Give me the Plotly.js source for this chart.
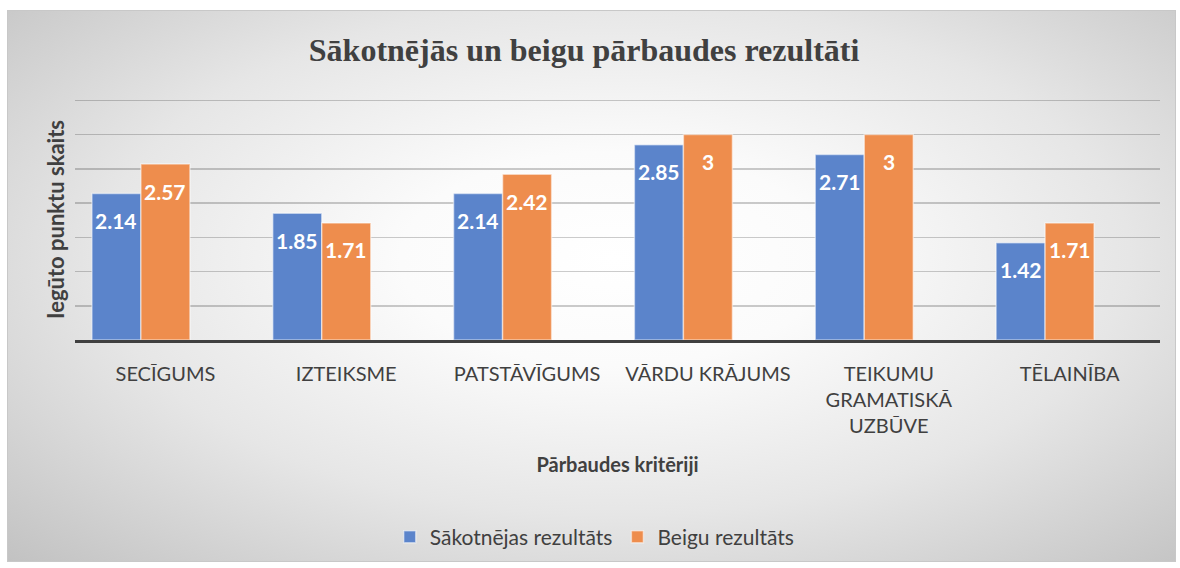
<!DOCTYPE html>
<html>
<head>
<meta charset="utf-8">
<script src="https://cdn.plot.ly/plotly-3.0.1.min.js"></script>
<style>
  html, body { margin: 0; padding: 0; background: #ffffff; width: 1180px; height: 568px; overflow: hidden; }
  #frame {
    position: absolute; left: 7px; top: 10px; width: 1169px; height: 552px;
    border: 1px solid #c8c8c8; box-sizing: border-box;
    background: radial-gradient(ellipse farthest-corner at 52% 45%, #ffffff 0%, #fbfbfb 25%, #e6e6e6 60%, #c2c2c2 100%);
  }
  #chart { position: absolute; left: 0; top: 0; width: 1180px; height: 568px; }
</style>
</head>
<body>
<div id="frame"></div>
<div id="chart"></div>
<script>
// ---- data ----
const categories = ['SECĪGUMS', 'IZTEIKSME', 'PATSTĀVĪGUMS', 'VĀRDU KRĀJUMS', 'TEIKUMU GRAMATISKĀ UZBŪVE', 'TĒLAINĪBA'];
const tickLabels = ['SECĪGUMS', 'IZTEIKSME', 'PATSTĀVĪGUMS', 'VĀRDU KRĀJUMS', 'TEIKUMU<br>GRAMATISKĀ<br>UZBŪVE', 'TĒLAINĪBA'];
const seriesNames = ['Sākotnējas rezultāts', 'Beigu rezultāts'];
const initialValues = [2.14, 1.85, 2.14, 2.85, 2.71, 1.42];
const finalValues = [2.57, 1.71, 2.42, 3, 3, 1.71];
const emptyValues = [0, 0, 0, 0, 0, 0];   // hidden third (empty) series that reserves a slot in each group

const chartTitle = 'Sākotnējās un beigu pārbaudes rezultāti';
const yTitle = 'Iegūto punktu skaits';
const xTitle = 'Pārbaudes kritēriji';

// ---- styles ----
const textColor = '#404040';
const blue = 'rgb(91,132,203)';
const orange = 'rgb(238,141,77)';

const traces = [
  {
    type: 'bar', name: seriesNames[0], x: categories, y: initialValues,
    marker: { color: blue, line: { color: 'rgba(255,255,255,0.5)', width: 1.5 } },
    hoverinfo: 'skip'
  },
  {
    type: 'bar', name: seriesNames[1], x: categories, y: finalValues,
    marker: { color: orange, line: { color: 'rgba(255,255,255,0.5)', width: 1.5 } },
    hoverinfo: 'skip'
  },
  {
    type: 'bar', name: '', x: categories, y: emptyValues, showlegend: false,
    marker: { color: 'rgba(0,0,0,0)', line: { width: 0 } }, hoverinfo: 'skip'
  }
];

// data labels, placed through the axes (category + value)
const annotations = [];
const labelFont = { family: 'Lato, "Open Sans", sans-serif', size: 21, color: '#ffffff' };
const shifts = [-49, 0];
[initialValues, finalValues].forEach((vals, si) => {
  vals.forEach((v, i) => {
    annotations.push({
      xref: 'x', yref: 'y', x: categories[i], y: v,
      text: '<b>' + String(v) + '</b>', showarrow: false,
      xanchor: 'center', yanchor: 'middle', xshift: shifts[si], yshift: -27,
      font: labelFont
    });
  });
});

const layout = {
  width: 1180, height: 568,
  margin: { l: 75, r: 20, t: 99, b: 227, pad: 0 },
  paper_bgcolor: 'rgba(0,0,0,0)',
  plot_bgcolor: 'rgba(0,0,0,0)',
  barmode: 'group',
  bargap: 0.187,
  bargroupgap: 0,
  title: {
    text: '<b>' + chartTitle + '</b>',
    x: 0.495, xanchor: 'center', xref: 'container',
    y: 1 - 50 / 568, yanchor: 'middle', yref: 'container',
    font: { family: '"Liberation Serif", "Times New Roman", serif', size: 32, color: textColor }
  },
  xaxis: {
    type: 'category',
    tickvals: categories, ticktext: tickLabels,
    tickfont: { family: 'Lato, "Open Sans", sans-serif', size: 20, color: textColor },
    ticklabelstandoff: 14,
    showline: true, linecolor: '#404040', linewidth: 3,
    showgrid: false, ticks: '', zeroline: false,
    title: {
      text: '<b>' + xTitle + '</b>', standoff: 22,
      font: { family: 'Lato, "Open Sans", sans-serif', size: 20, color: textColor }
    },
    automargin: false, fixedrange: true
  },
  yaxis: {
    range: [0, 3.52], dtick: 0.5, tick0: 0,
    showticklabels: false, ticks: '',
    showgrid: true, gridcolor: 'rgba(0,0,0,0.2)', gridwidth: 1.5,
    zeroline: false, showline: false,
    title: {
      text: '<b>' + yTitle + '</b>', standoff: 3,
      font: { family: 'Lato, "Open Sans", sans-serif', size: 22, color: textColor }
    },
    automargin: false, fixedrange: true
  },
  legend: {
    orientation: 'h', x: 0.479, xanchor: 'center', y: -0.81, yanchor: 'middle',
    font: { family: 'Lato, "Open Sans", sans-serif', size: 21, color: textColor },
    bgcolor: 'rgba(0,0,0,0)', itemwidth: 30, traceorder: 'normal'
  },
  annotations: annotations,
  showlegend: true
};

Plotly.newPlot('chart', traces, layout, { staticPlot: true, displayModeBar: false });
</script>
</body>
</html>
